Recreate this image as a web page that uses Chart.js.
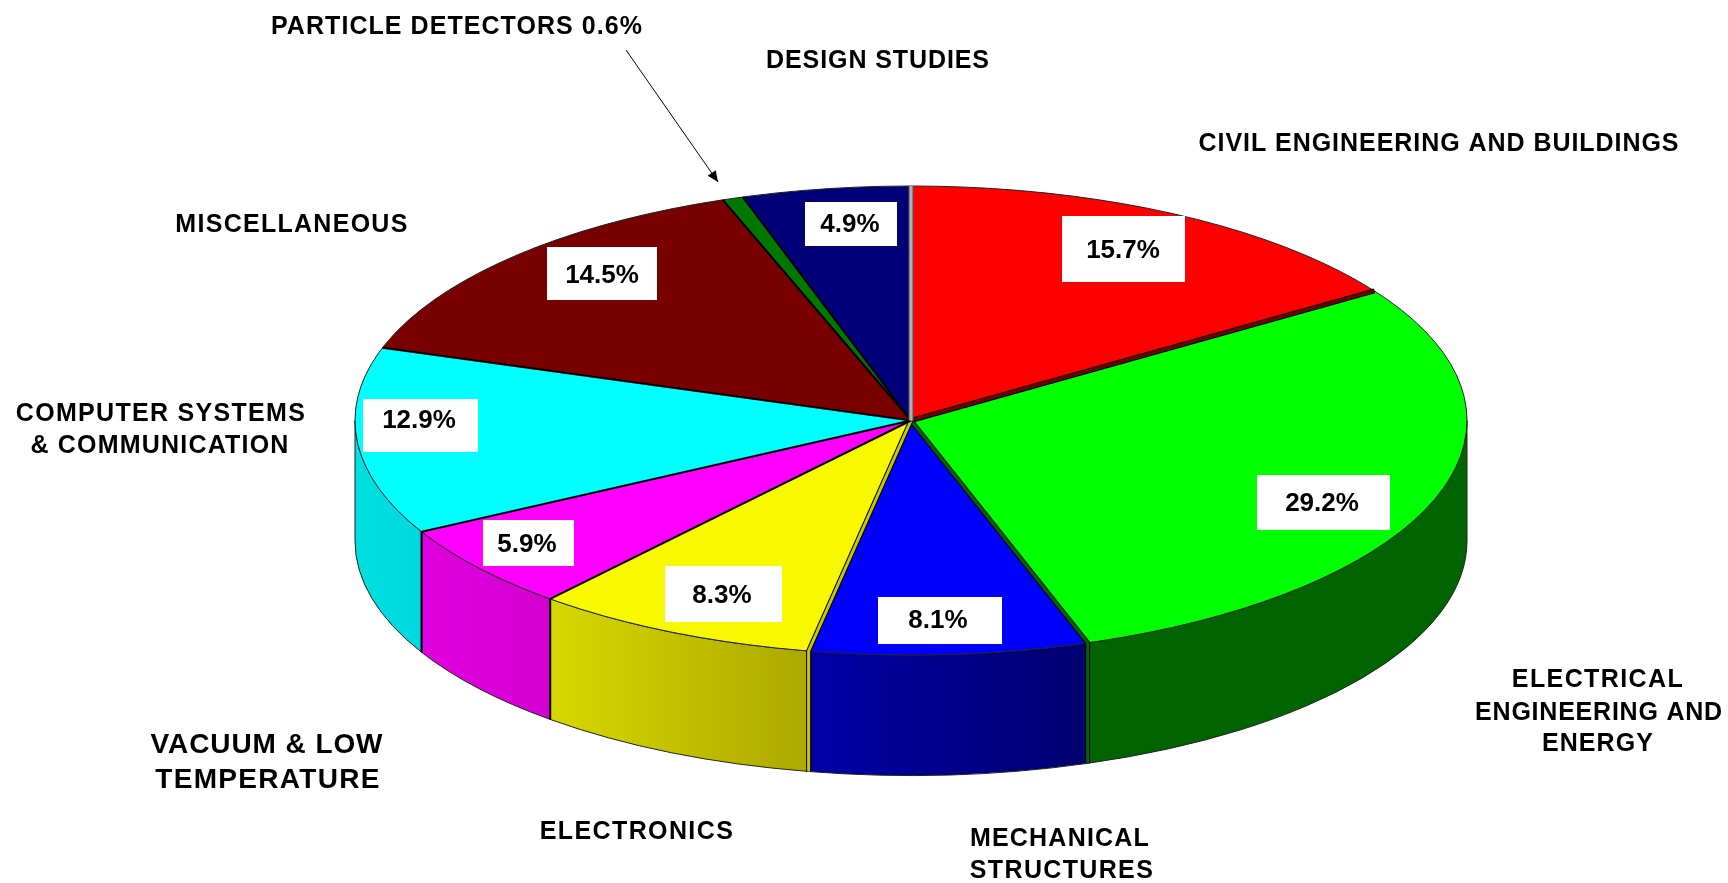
<!DOCTYPE html>
<html lang="en">
<head>
<meta charset="UTF-8">
<title>Pie</title>
<script src="https://cdn.jsdelivr.net/npm/chart.js"></script>
<style>
  html, body { margin: 0; padding: 0; background: #fff; }
  canvas { display: block; }
</style>
</head>
<body>
<canvas id="pie" width="1728" height="883"></canvas>
<script>
// slices, clockwise from 12 o'clock
const categories = ['CIVIL ENGINEERING AND BUILDINGS', 'ELECTRICAL ENGINEERING AND ENERGY', 'MECHANICAL STRUCTURES', 'ELECTRONICS',
  'VACUUM & LOW TEMPERATURE', 'COMPUTER SYSTEMS & COMMUNICATION', 'MISCELLANEOUS', 'PARTICLE DETECTORS', 'DESIGN STUDIES'];
const shares = [15.7, 29.2, 8.1, 8.3, 5.9, 12.9, 14.5, 0.6, 4.9];
const topColors = ['#ff0000', '#00ff00', '#0000ff', '#f8f800', '#ff00ff', '#00ffff', '#780000', '#007800', '#000078'];
const wallLeft = ['#c00000', '#006400', '#0000a8', '#d8d800', '#e000e0', '#00e0e0', '#500000', '#005000', '#000050'];
const wallRight = ['#c00000', '#006400', '#000070', '#aca800', '#d400d0', '#00d8e0', '#500000', '#005000', '#000050'];
// strip seen along the edge at the end of each slice (null = plain black line)
const seamColors = ['#700000', '#006400', '#c8c800', null, null, null, null, null, '#b0b0b0'];

// pie geometry on the page
const CX = 911, CY = 420.5, RX = 556, RY = 234.5, DEPTH = 120.5;

// value boxes: x, y, w, h, text centre, baseline
const boxes = [
  [1062, 216, 123, 66, 1123, 258],
  [1257, 475, 133, 55, 1322, 511],
  [878, 597, 124, 47, 938, 628],
  [665, 566, 117, 56, 722, 603],
  [483, 520, 91, 46, 527, 552],
  [363, 399, 115, 53, 419, 428],
  [547, 247, 110, 53, 602, 283],
  null,
  [805, 202, 92, 44, 850, 232]
];

// category captions: text, centre x, baseline, font size, width
const captions = [
  ['PARTICLE DETECTORS 0.6%', 457, 34, 25, 371],
  ['DESIGN STUDIES', 878, 68, 25, 223],
  ['CIVIL ENGINEERING AND BUILDINGS', 1439, 151, 25, 480],
  ['MISCELLANEOUS', 292, 232, 25, 232],
  ['COMPUTER SYSTEMS', 161, 421, 25, 289],
  ['& COMMUNICATION', 160, 453, 25, 258],
  ['VACUUM & LOW', 267, 753, 28, 232],
  ['TEMPERATURE', 268, 788, 28, 224],
  ['ELECTRONICS', 637, 839, 25, 193],
  ['MECHANICAL', 1060, 846, 25, 179],
  ['STRUCTURES', 1062, 878, 25, 183],
  ['ELECTRICAL', 1598, 687, 25, 171],
  ['ENGINEERING AND', 1599, 720, 25, 247],
  ['ENERGY', 1598, 751, 25, 111]
];

function rimPoint(a, dy) {
  return [CX + RX * Math.cos(a), CY + RY * Math.sin(a) + (dy || 0)];
}

const pie3d = {
  id: 'pie3d',
  beforeDatasetsDraw(chart) {
    const ctx = chart.ctx;
    const arcs = chart.getDatasetMeta(0).data;
    // side walls first, only the part facing us
    arcs.forEach((arc, i) => {
      const a = Math.max(arc.startAngle, 0), b = Math.min(arc.endAngle, Math.PI);
      if (b <= a) return;
      const g = ctx.createLinearGradient(rimPoint(b)[0], 0, rimPoint(a)[0], 0);
      g.addColorStop(0, wallLeft[i]);
      g.addColorStop(1, wallRight[i]);
      ctx.beginPath();
      ctx.ellipse(CX, CY, RX, RY, 0, a, b);
      ctx.ellipse(CX, CY + DEPTH, RX, RY, 0, b, a, true);
      ctx.closePath();
      ctx.fillStyle = g;
      ctx.fill();
      ctx.strokeStyle = '#222';
      ctx.lineWidth = 1;
      ctx.stroke();
    });
    // flatten the library's arcs into the ellipse
    const first = arcs[0];
    ctx.save();
    ctx.translate(CX, CY);
    ctx.scale(RX / first.outerRadius, RY / first.outerRadius);
    ctx.translate(-first.x, -first.y);
  },
  afterDatasetsDraw(chart) {
    const ctx = chart.ctx;
    ctx.restore();
    const arcs = chart.getDatasetMeta(0).data;

    // rim
    ctx.strokeStyle = '#222';
    ctx.lineWidth = 1;
    ctx.beginPath();
    ctx.ellipse(CX, CY, RX, RY, 0, 0, Math.PI * 2);
    ctx.stroke();

    // seams on the top face and down the wall
    arcs.forEach((arc, i) => {
      const a = arc.endAngle;
      const p = rimPoint(a);
      const front = Math.sin(a) > 0;
      const seam = seamColors[i];
      const path = () => {
        ctx.beginPath();
        ctx.moveTo(CX, CY);
        ctx.lineTo(p[0], p[1]);
        if (front) ctx.lineTo(p[0], p[1] + DEPTH);
      };
      ctx.lineJoin = 'miter';
      ctx.strokeStyle = i === 8 ? '#555' : '#000';
      ctx.lineWidth = seam ? 5 : 2;
      path();
      ctx.stroke();
      if (seam) {
        ctx.strokeStyle = seam;
        ctx.lineWidth = 3;
        path();
        ctx.stroke();
      }
    });

    // value boxes
    ctx.textAlign = 'center';
    ctx.textBaseline = 'alphabetic';
    ctx.font = 'bold 26px "Liberation Sans", Arial, sans-serif';
    boxes.forEach((b, i) => {
      if (!b) return;
      ctx.fillStyle = '#fff';
      ctx.fillRect(b[0], b[1], b[2], b[3]);
      ctx.fillStyle = '#000';
      ctx.fillText(shares[i].toFixed(1) + '%', b[4], b[5]);
    });

    // captions, spaced out to the measured width
    captions.forEach(c => {
      ctx.font = 'bold ' + c[3] + 'px "Liberation Sans", Arial, sans-serif';
      ctx.letterSpacing = '0px';
      const w = ctx.measureText(c[0]).width;
      ctx.letterSpacing = ((c[4] - w) / (c[0].length - 1)) + 'px';
      ctx.fillStyle = '#000';
      ctx.fillText(c[0], c[1], c[2]);
    });
    ctx.letterSpacing = '0px';

    // arrow to the thin slice
    const from = [626, 50], tip = [718, 182];
    const ang = Math.atan2(tip[1] - from[1], tip[0] - from[0]);
    ctx.strokeStyle = '#000';
    ctx.lineWidth = 1;
    ctx.beginPath();
    ctx.moveTo(from[0], from[1]);
    ctx.lineTo(tip[0], tip[1]);
    ctx.stroke();
    ctx.fillStyle = '#000';
    ctx.beginPath();
    ctx.moveTo(tip[0], tip[1]);
    ctx.lineTo(tip[0] - 12 * Math.cos(ang - 0.42), tip[1] - 12 * Math.sin(ang - 0.42));
    ctx.lineTo(tip[0] - 12 * Math.cos(ang + 0.42), tip[1] - 12 * Math.sin(ang + 0.42));
    ctx.closePath();
    ctx.fill();
  }
};

new Chart(document.getElementById('pie'), {
  type: 'pie',
  data: {
    labels: categories,
    datasets: [{ data: shares, backgroundColor: topColors, borderWidth: 0, clip: false }]
  },
  options: {
    responsive: false,
    animation: false,
    plugins: { legend: { display: false }, tooltip: { enabled: false } }
  },
  plugins: [pie3d]
});
</script>
</body>
</html>
